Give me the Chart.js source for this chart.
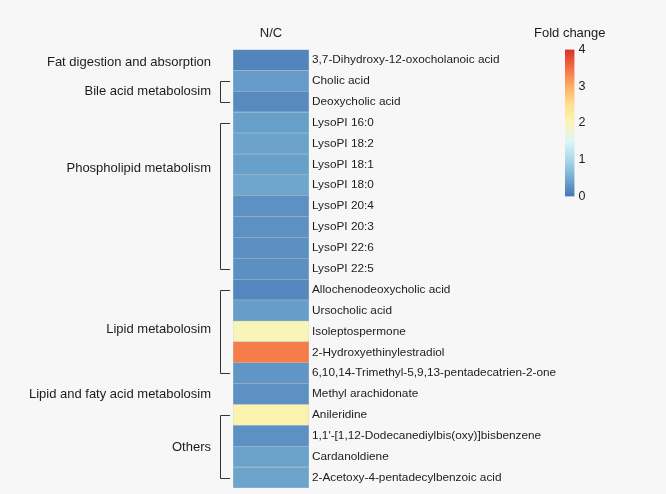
<!DOCTYPE html>
<html>
<head>
<meta charset="utf-8">
<script src="https://cdn.jsdelivr.net/npm/chart.js@4.4.1/dist/chart.umd.min.js"></script>
<style>
  html, body { margin: 0; padding: 0; background: #f7f7f7; }
  #wrap { position: relative; width: 666px; height: 494px; }
  canvas { position: absolute; left: 0; top: 0; }
</style>
</head>
<body>
<div id="wrap">
  <canvas id="heat" width="666" height="494"></canvas>
  <canvas id="bar" width="666" height="494"></canvas>
</div>
<script>
const compounds = [
  "3,7-Dihydroxy-12-oxocholanoic acid", "Cholic acid", "Deoxycholic acid",
  "LysoPI 16:0", "LysoPI 18:2", "LysoPI 18:1", "LysoPI 18:0", "LysoPI 20:4",
  "LysoPI 20:3", "LysoPI 22:6", "LysoPI 22:5", "Allochenodeoxycholic acid",
  "Ursocholic acid", "Isoleptospermone", "2-Hydroxyethinylestradiol",
  "6,10,14-Trimethyl-5,9,13-pentadecatrien-2-one", "Methyl arachidonate",
  "Anileridine", "1,1'-[1,12-Dodecanediylbis(oxy)]bisbenzene", "Cardanoldiene",
  "2-Acetoxy-4-pentadecylbenzoic acid"
]
const foldChange = [
  0.14, 0.34, 0.19, 0.38, 0.41, 0.38, 0.44, 0.25,
  0.25, 0.24, 0.24, 0.16, 0.36, 1.97, 3.38, 0.29,
  0.25, 2.08, 0.25, 0.40, 0.42
]
const groupNames = [
  "Fat digestion and absorption", "Bile acid metabolosim", "Phospholipid metabolism",
  "Lipid metabolosim", "Lipid and faty acid metabolosim", "Others"
]
const groupFirst = [0, 1, 3, 11, 16, 17]
const groupLast = [0, 2, 10, 15, 16, 20]
const groupLabelAt = [0.1, 1.5, 5.2, 12.9, 16, 18.55]

const scaleStops = [0, 0.5, 1, 1.5, 2, 2.5, 3, 3.5, 4]
const scaleColors = ["#4575b4", "#74add1", "#abd9e9", "#e0f3f8", "#fbf5b4",
  "#fee090", "#fdae61", "#f46d43", "#d73027"]
const scaleTicks = [0, 1, 2, 3, 4]

const FONT = "'Liberation Sans', Arial, Helvetica, sans-serif"
const INK = "#1c1c1c"

function hexRgb(h) {
  return [1, 3, 5].map(i => parseInt(h.slice(i, i + 2), 16))
}
function colorFor(v) {
  for (let i = 0; i < scaleStops.length - 1; i++) {
    if (v <= scaleStops[i + 1]) {
      let t = (v - scaleStops[i]) / (scaleStops[i + 1] - scaleStops[i])
      let a = hexRgb(scaleColors[i]), b = hexRgb(scaleColors[i + 1])
      let c = a.map((x, k) => Math.round(x + (b[k] - x) * t))
      return `rgb(${c[0]},${c[1]},${c[2]})`
    }
  }
  return scaleColors[scaleColors.length - 1]
}

// brackets + pathway names on the left of the heatmap
const groupsPlugin = {
  id: "groups",
  afterDraw(chart) {
    const { ctx, chartArea, scales } = chart
    const y = scales.y
    const bx = chartArea.left - 13
    const tx = chartArea.left - 3
    ctx.save()
    ctx.strokeStyle = "#333"
    ctx.lineWidth = 1
    ctx.fillStyle = INK
    ctx.font = "13px " + FONT
    ctx.textAlign = "right"
    ctx.textBaseline = "middle"
    groupNames.forEach((name, i) => {
      if (groupLast[i] > groupFirst[i]) {
        let y0 = Math.round(y.getPixelForValue(groupFirst[i])) + 0.5
        let y1 = Math.round(y.getPixelForValue(groupLast[i])) + 0.5
        ctx.beginPath()
        ctx.moveTo(tx, y0)
        ctx.lineTo(bx + 0.5, y0)
        ctx.lineTo(bx + 0.5, y1)
        ctx.lineTo(tx, y1)
        ctx.stroke()
      }
      ctx.fillText(name, chartArea.left - 22, y.getPixelForValue(groupLabelAt[i]))
    })
    ctx.restore()
  }
}

// legend title over the narrow colour bar
const keyTitle = {
  id: "keyTitle",
  afterDraw(chart) {
    const { ctx, chartArea } = chart
    ctx.save()
    ctx.fillStyle = INK
    ctx.font = "13px " + FONT
    ctx.textAlign = "center"
    ctx.textBaseline = "middle"
    ctx.fillText("Fold change", (chartArea.left + chartArea.right) / 2, chartArea.top - 16.5)
    ctx.restore()
  }
}

new Chart(document.getElementById("heat"), {
  type: "bar",
  data: {
    labels: compounds,
    datasets: [{
      data: foldChange.map(() => [0, 1]),
      backgroundColor: foldChange.map(colorFor),
      borderColor: "rgba(110,120,140,0.35)",
      borderWidth: 0.6,
      borderSkipped: false,
      barPercentage: 1,
      categoryPercentage: 1,
    }]
  },
  options: {
    indexAxis: "y",
    responsive: false,
    animation: false,
    layout: { padding: { left: 233, top: 0, right: 0, bottom: 6 } },
    plugins: { legend: { display: false }, tooltip: { enabled: false } },
    scales: {
      x: {
        position: "top",
        min: 0,
        max: 1,
        grid: { display: false, drawTicks: false },
        border: { display: false },
        ticks: { display: false },
        title: {
          display: true,
          text: "N/C",
          color: INK,
          font: { family: FONT, size: 13 },
          padding: { top: 25.5, bottom: 0 },
        },
        afterFit: s => { s.height = 49.5 },
      },
      y: {
        position: "right",
        grid: { display: false, drawTicks: false },
        border: { display: false },
        ticks: { color: INK, padding: 3, font: { family: FONT, size: 11.8 } },
        afterFit: s => {
          s.width = 666 - 309
          s.paddingTop = 0
          s.paddingBottom = 0
        },
      }
    }
  },
  plugins: [groupsPlugin]
})

// colour key
new Chart(document.getElementById("bar"), {
  type: "bar",
  data: {
    labels: [""],
    datasets: [{
      data: [scaleStops[scaleStops.length - 1]],
      backgroundColor: c => {
        const { chart } = c
        if (!chart.chartArea) return scaleColors[0]
        const y = chart.scales.y
        const g = chart.ctx.createLinearGradient(0, y.getPixelForValue(0), 0, y.getPixelForValue(4))
        scaleStops.forEach((s, i) => g.addColorStop(s / 4, scaleColors[i]))
        return g
      },
      borderWidth: 0,
      barPercentage: 1,
      categoryPercentage: 1,
    }]
  },
  options: {
    responsive: false,
    animation: false,
    layout: { padding: { left: 565, top: 49.5, right: 0, bottom: 494 - 196.5 } },
    plugins: { legend: { display: false }, tooltip: { enabled: false } },
    scales: {
      x: { display: false },
      y: {
        position: "right",
        min: 0,
        max: 4,
        afterBuildTicks: s => { s.ticks = scaleTicks.map(v => ({ value: v })) },
        grid: { display: false, drawTicks: false },
        border: { display: false },
        ticks: { color: INK, padding: 4, font: { family: FONT, size: 12.5 } },
        afterFit: s => {
          s.width = 666 - 574.5
          s.paddingTop = 0
          s.paddingBottom = 0
        },
      }
    }
  },
  plugins: [keyTitle]
})
</script>
</body>
</html>
